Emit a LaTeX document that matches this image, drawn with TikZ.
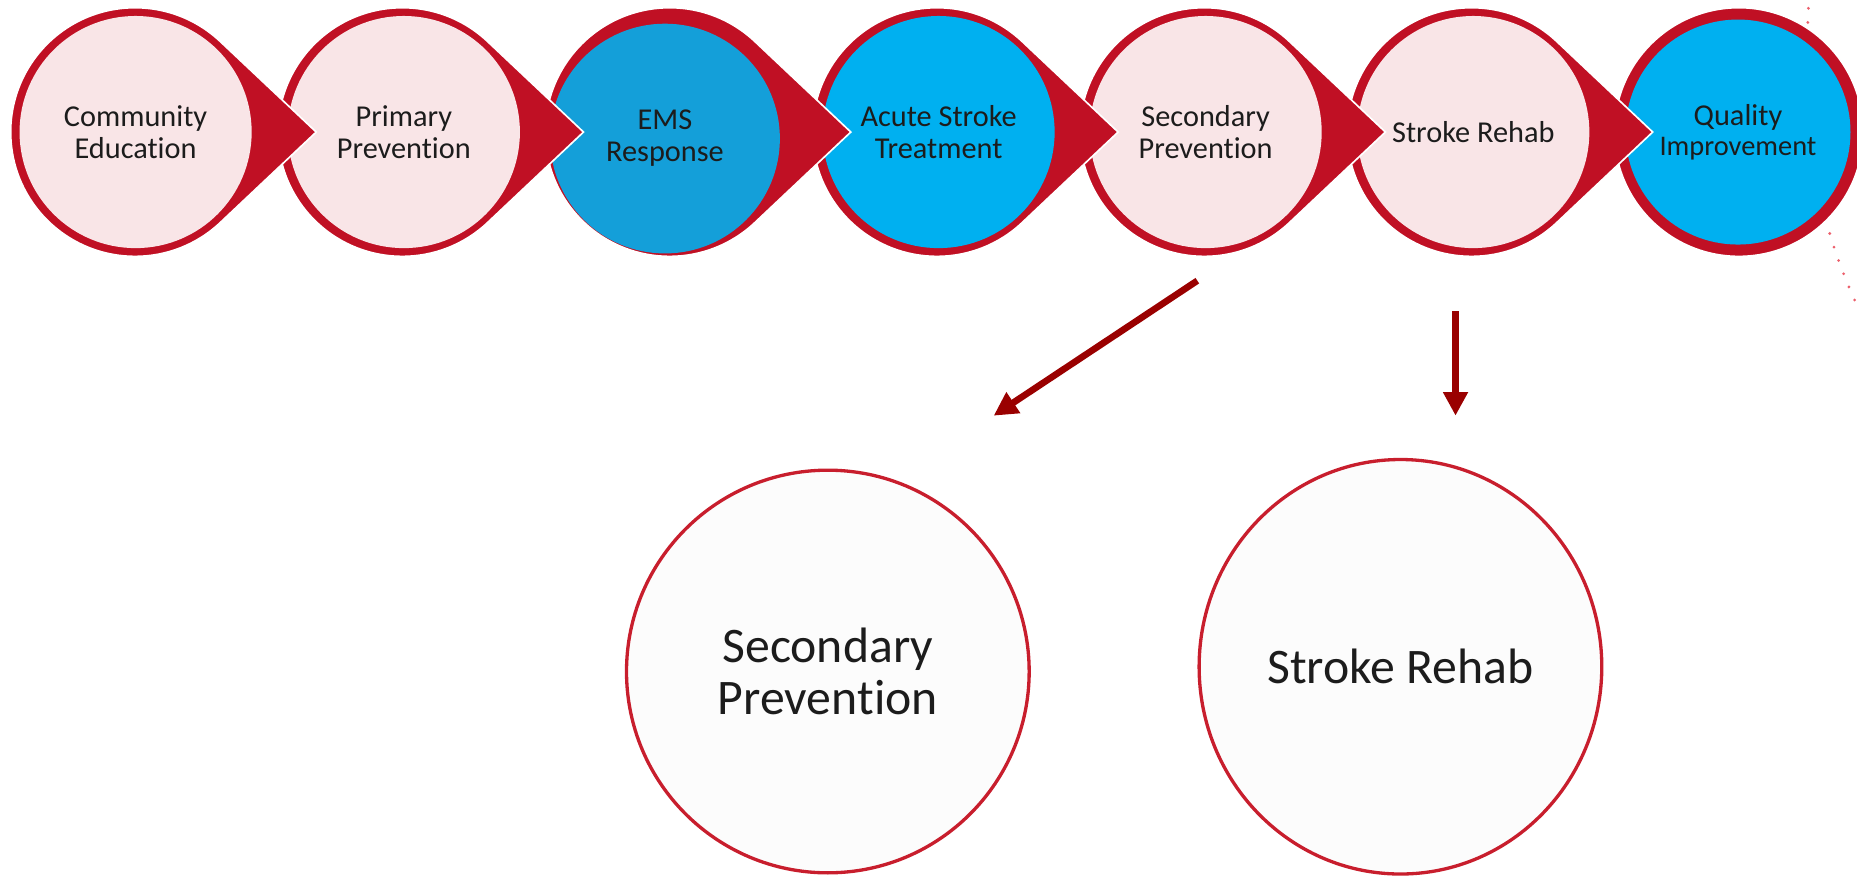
\documentclass[tikz,border=0pt]{standalone}
\usepackage{fontspec}
\setmainfont{Carlito}[RawFeature={-liga}]
\usetikzlibrary{arrows.meta,shapes.geometric}
\definecolor{bred}{RGB}{192,16,36}
\definecolor{pinkf}{RGB}{249,229,231}
\definecolor{emsblue}{RGB}{20,159,217}
\definecolor{cyanb}{RGB}{0,176,240}
\definecolor{darr}{RGB}{154,0,0}
\definecolor{dotred}{RGB}{236,96,108}
\definecolor{txt}{RGB}{28,28,28}
\definecolor{bigfill}{RGB}{252,252,252}
\definecolor{bigline}{RGB}{200,30,45}
\newcommand\tdrop[2]{\fill[tear] (#1,#2) ++(46.66:52.5pt) arc[start angle=46.66, end angle=313.34, radius=52.5pt] -- (#1+153,#2) -- cycle;}
\begin{document}
\begin{tikzpicture}[x=0.5pt,y=0.5pt,
  tear/.style={fill=bred, draw=white, line width=0.7pt},
  inner/.style={circle, minimum size=98pt, inner sep=0pt, align=center, text=txt,
    font=\fontsize{12.8}{13.5}\selectfont},
  big/.style={ellipse, draw=bigline, line width=1.4pt, fill=bigfill, inner sep=0pt, align=center,
    text=txt, font=\fontsize{21}{22}\selectfont},
  arr/.style={draw=darr, line width=2.8pt, -{Triangle[width=10pt,length=10pt]}},
  dots/.style={draw=dotred, line width=1.3pt, line cap=round, dash pattern=on 0pt off 6pt}]
\useasboundingbox (0,0) rectangle (1568,740);
\clip (0,0) rectangle (1568,740);
% dotted arc at the right edge
\draw[dots] (1527,733) .. controls (1522,640) and (1530,560) .. (1572,474);
% top chain, drawn from right to left
\fill[tear] (1468.2,628.5) circle[radius=52.5pt];
\node[inner, fill=cyanb, minimum size=95pt] (c7) at (1467.5,628.5) {Quality\\[-1pt]{\fontsize{12}{13}\selectfont Improvement}};
\tdrop{1242.5}{628.5}
\node[inner, fill=pinkf] (c6) at (1244,628.5) {Stroke Rehab};
\tdrop{1016.8}{628.5}
\node[inner, fill=pinkf] (c5) at (1018,628.5) {Secondary\\Prevention};
\tdrop{791.1}{628.5}
\node[inner, fill=cyanb] (c4) at (792.5,628.5) {Acute Stroke\\Treatment};
\tdrop{565.4}{628.5}
\node[inner, fill=emsblue, minimum size=97pt] (c3) at (561.5,623) {EMS\\Response};
\tdrop{339.7}{628.5}
\node[inner, fill=pinkf] (c2) at (341,628.5) {Primary\\Prevention};
\tdrop{114}{628.5}
\node[inner, fill=pinkf] (c1) at (114.5,628.5) {Community\\Education};
% arrows
\coordinate (a1s) at (1011,503);
\coordinate (a1e) at (839,389);
\coordinate (a2s) at (1229,477);
\coordinate (a2e) at (1229,389);
\draw[arr] (a1s) -- (a1e);
\draw[arr] (a2s) -- (a2e);
% bottom circles
\node[big, minimum width=170pt, minimum height=170pt] (b1) at (699,173) {Secondary\\Prevention};
\node[big, minimum width=170pt, minimum height=175pt] (b2) at (1182.5,177) {Stroke Rehab};
\end{tikzpicture}
\end{document}
